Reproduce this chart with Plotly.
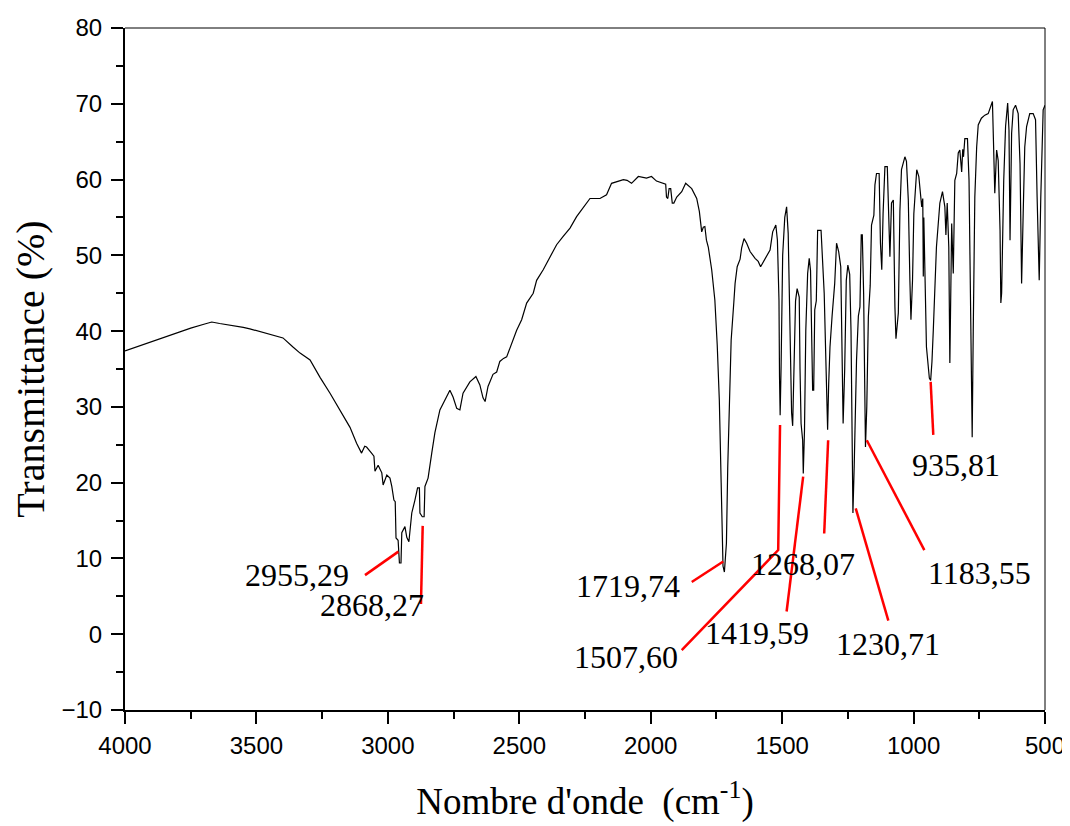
import plotly.graph_objects as go

# ---- spectrum (wavenumber cm-1, transmittance %) ----
wavenumber = [
    4000, 3950, 3900, 3850, 3800, 3750, 3700, 3670, 3640, 3600, 3550, 3525, 3480, 3423, 3399,
    3361, 3334, 3296, 3258, 3220, 3182, 3144, 3119, 3100, 3088, 3081, 3062, 3053, 3049, 3037,
    3023, 3018, 3004, 2992, 2985, 2977, 2972, 2969, 2961, 2956, 2950, 2947, 2935, 2928, 2920,
    2909, 2897, 2887, 2880, 2878, 2869, 2862, 2859, 2847, 2833, 2821, 2802, 2776, 2764, 2752,
    2738, 2726, 2714, 2688, 2665, 2650, 2638, 2630, 2619, 2600, 2586, 2574, 2560, 2548, 2529,
    2510, 2491, 2472, 2447, 2434, 2409, 2383, 2358, 2333, 2307, 2282, 2257, 2231, 2193, 2168,
    2149, 2104, 2090, 2073, 2047, 2016, 1997, 1978, 1943, 1940, 1935, 1930, 1924, 1918, 1912,
    1901, 1882, 1867, 1844, 1825, 1815, 1806, 1800, 1794, 1788, 1781, 1768, 1756, 1747, 1739,
    1732, 1725, 1719.7, 1712, 1707, 1701, 1694, 1684, 1679, 1671, 1660, 1654, 1645, 1635, 1622,
    1603, 1591, 1582, 1546, 1536, 1524, 1518, 1512, 1510, 1507.6, 1504, 1498, 1490, 1483, 1477,
    1470, 1464, 1460, 1455, 1449, 1443, 1435, 1432, 1428, 1422, 1419.6, 1415, 1410, 1403, 1397,
    1392, 1388, 1384, 1380, 1376, 1370, 1365, 1352, 1345, 1340, 1335, 1330, 1327, 1323, 1318,
    1310, 1300, 1293, 1285, 1277, 1272, 1268, 1262, 1256, 1250, 1243, 1238, 1234, 1230.7, 1226,
    1220, 1217, 1210, 1204, 1199, 1195, 1190, 1186, 1183, 1178, 1172, 1165, 1160, 1151, 1147,
    1141, 1131, 1126, 1121, 1116, 1109, 1100, 1096, 1090, 1084, 1077, 1071, 1067, 1058, 1052,
    1046, 1033, 1027, 1020, 1014, 1010, 1004, 999, 988, 980, 969, 965, 963, 961, 951,
    940, 935, 930, 925, 913, 900, 890, 881, 877, 872, 866, 862, 858, 855, 849,
    843, 836, 830, 824, 817, 813, 810, 805, 795, 789, 782, 777, 773, 770, 767,
    760, 754, 742, 729, 716, 707, 700, 696, 691, 684, 678, 671, 668, 665, 657,
    650, 642, 637, 633, 627, 621, 612, 602, 595, 589, 583, 577, 570, 558, 545,
    536, 530, 522, 516, 507, 500,
]
transmittance = [
    37.4, 38.0, 38.7, 39.3, 39.9, 40.4, 40.9, 41.2, 41.0, 40.8, 40.5, 40.3, 39.9, 39.3, 39.1,
    37.9, 37.1, 36.2, 33.9, 31.8, 29.6, 27.3, 25.2, 23.9, 24.8, 24.7, 23.9, 23.5, 21.5, 22.3,
    21.3, 19.7, 21.0, 20.6, 19.5, 17.7, 17.5, 12.7, 12.4, 9.4, 9.4, 13.4, 14.2, 12.8, 12.2,
    16.0, 17.7, 19.3, 19.3, 16.0, 15.5, 15.5, 19.5, 20.6, 23.9, 26.6, 29.6, 31.3, 32.2, 31.3,
    29.8, 29.6, 31.8, 33.3, 34.0, 32.9, 31.2, 30.7, 32.7, 34.3, 34.6, 36.0, 36.4, 36.6, 38.4,
    40.1, 41.5, 43.7, 45.0, 46.7, 48.1, 49.8, 51.4, 52.5, 53.6, 55.1, 56.2, 57.5, 57.5, 58.0,
    59.5, 60.0, 59.9, 59.5, 60.4, 60.2, 60.4, 59.8, 59.4, 57.7, 57.5, 58.8, 58.8, 56.9, 56.9,
    57.7, 58.4, 59.5, 58.8, 57.5, 55.8, 53.1, 53.7, 53.8, 52.0, 51.1, 48.1, 44.1, 38.2, 30.9,
    20.0, 9.0, 8.2, 12.0, 22.0, 31.1, 38.8, 43.7, 46.3, 48.5, 49.5, 51.0, 52.2, 51.6, 50.5,
    49.6, 49.2, 48.5, 50.7, 53.1, 54.0, 52.0, 44.0, 34.0, 28.9, 35.3, 50.0, 55.0, 56.4, 52.9,
    37.9, 29.2, 27.5, 34.0, 44.0, 45.6, 44.5, 35.0, 27.8, 25.6, 21.2, 26.9, 40.1, 47.6, 49.6,
    48.0, 40.0, 32.2, 32.2, 42.8, 44.0, 53.3, 53.3, 49.0, 45.0, 38.0, 30.0, 27.0, 33.0, 37.9,
    42.0, 46.3, 51.6, 50.5, 48.5, 39.7, 27.8, 35.0, 46.7, 48.7, 47.5, 40.0, 21.7, 16.0, 22.0,
    35.0, 36.2, 42.0, 43.2, 52.7, 52.7, 45.0, 35.0, 24.7, 30.0, 41.9, 46.0, 54.0, 55.3, 59.3,
    60.8, 60.8, 51.6, 48.1, 55.5, 61.7, 61.7, 55.1, 49.8, 56.9, 57.3, 43.2, 39.0, 42.4, 55.8,
    61.3, 63.0, 62.4, 57.3, 46.7, 41.5, 46.7, 55.5, 61.3, 60.4, 56.4, 57.5, 47.2, 55.0, 37.9,
    33.8, 33.5, 36.0, 40.1, 51.1, 56.9, 58.4, 56.4, 52.7, 56.9, 51.1, 35.8, 45.0, 54.2, 47.6,
    59.9, 60.8, 63.5, 63.9, 61.0, 64.0, 63.0, 65.4, 65.4, 59.9, 42.4, 26.0, 40.0, 46.7, 57.7,
    64.3, 67.2, 68.1, 68.5, 68.7, 69.6, 70.3, 65.0, 58.2, 63.9, 62.5, 53.3, 43.7, 45.0, 59.9,
    67.0, 70.1, 66.5, 52.0, 66.1, 69.2, 69.8, 68.7, 62.1, 46.3, 55.5, 64.3, 67.0, 68.7, 68.7,
    67.9, 57.7, 46.7, 57.7, 69.2, 69.8,
]

# ---- peak labels ----
peak_labels = ["2955,29", "2868,27", "1719,74", "1507,60", "1419,59",
               "1268,07", "1230,71", "1183,55", "935,81"]
label_x = [3346, 3060, 2088, 2094, 1594, 1421, 1097, 751, 840]
label_y = [7.8, 3.9, 6.4, -3.0, 0.2, 9.3, -1.3, 8.1, 22.3]
# leader lines (data coordinates)
leader_x = [[3087, 2960], [2874, 2867.5], [1844, 1724], [1882, 1515, 1508],
            [1483, 1420], [1340, 1325], [1096, 1220], [959, 1178], [925, 935]]
leader_y = [[7.8, 10.9], [4.0, 14.3], [6.9, 9.6], [-2.1, 11.1, 27.6],
            [3.0, 20.8], [13.3, 25.6], [1.8, 16.6], [11.1, 25.6], [26.3, 33.3]]

x_ticks = [4000, 3500, 3000, 2500, 2000, 1500, 1000, 500]
y_ticks = [-10, 0, 10, 20, 30, 40, 50, 60, 70, 80]

fig = go.Figure()
fig.add_trace(go.Scatter(x=wavenumber, y=transmittance, mode="lines",
                         line=dict(color="black", width=1.2), showlegend=False,
                         hoverinfo="skip"))
for lx, ly in zip(leader_x, leader_y):
    fig.add_trace(go.Scatter(x=lx, y=ly, mode="lines",
                             line=dict(color="#ff0000", width=2.5),
                             showlegend=False, hoverinfo="skip"))

for txt, tx, ty in zip(peak_labels, label_x, label_y):
    fig.add_annotation(x=tx, y=ty, text=txt, showarrow=False,
                       font=dict(family="Liberation Serif", size=32, color="black"),
                       xanchor="center", yanchor="middle")

axis_font = dict(family="Liberation Sans", size=24, color="black")
fig.update_xaxes(range=[4000, 500], tickvals=x_ticks, ticks="outside", ticklen=12,
                 tickwidth=2, tickcolor="black", showline=True, linecolor="black",
                 linewidth=2, showgrid=False, zeroline=False, tickfont=axis_font,
                 ticklabelstandoff=1, automargin=False,
                 minor=dict(dtick=250, ticks="outside", ticklen=7, tickwidth=2,
                            tickcolor="black", showgrid=False),
                 title=dict(text="Nombre d'onde\u00a0 (cm<sup>-1</sup>)",
                            font=dict(family="Liberation Serif", size=37, color="black"),
                            standoff=30))
fig.update_yaxes(range=[-10, 80], tickvals=y_ticks, ticks="outside", ticklen=12,
                 tickwidth=2, tickcolor="black", showline=True, linecolor="black",
                 linewidth=2, showgrid=False, zeroline=False, tickfont=axis_font,
                 ticklabelstandoff=4, automargin=False,
                 minor=dict(dtick=5, ticks="outside", ticklen=7, tickwidth=2,
                            tickcolor="black", showgrid=False),
                 title=dict(text="Transmittance (%)",
                            font=dict(family="Liberation Serif", size=40, color="black"),
                            standoff=8))
# thin top/right frame
fig.add_shape(type="line", xref="paper", yref="paper", x0=0, x1=1, y0=1, y1=1,
              line=dict(color="black", width=1))
fig.add_shape(type="line", xref="paper", yref="paper", x0=1, x1=1, y0=0, y1=1,
              line=dict(color="black", width=1))

# page adds an 8px body margin, so the figure is sized/offset to compensate
fig.update_layout(width=1062, height=818, plot_bgcolor="white", paper_bgcolor="white",
                  margin=dict(l=117, r=25, t=20, b=116), showlegend=False)
fig.write_html("out.html")
